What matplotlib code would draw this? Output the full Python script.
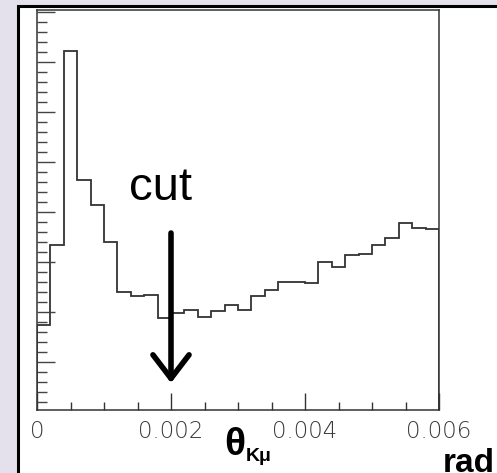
#draws the theta_K-mu angle histogram with the cut marker

import matplotlib.pyplot as plt
import matplotlib.patches as patches
from matplotlib.ticker import MultipleLocator



#histogram: 30 bins of 0.0002 rad
binEdges = [i * 0.0002 for i in range(31)]
counts = [174, 334, 722, 464, 414, 340, 240, 232, 234, 188,
          198, 204, 190, 202, 214, 204, 232, 244, 260, 260,
          258, 300, 290, 314, 316, 334, 348, 378, 368, 366]

xTicks = [0, 0.002, 0.004, 0.006]
xTickLabels = ["0", "0.002", "0.004", "0.006"]

#cut position and arrow span
cutX = 0.002
arrowTop = 358
arrowTip = 58

W, H = 497, 473



def px(x, y):
    #pixel position -> figure fraction
    return x / W, 1 - y / H


def createGraph():

    fig = plt.figure(figsize=(W / 100, H / 100), dpi=100, facecolor="#e4e0ec")

    #white panel with black border, running off the right and bottom
    fig.patches.append(patches.Rectangle((17.5 / W, -0.5), 2, 1.5 - 6.5 / H,
                                         transform=fig.transFigure, facecolor="white",
                                         edgecolor="black", linewidth=2.2, zorder=-1))

    l, b = px(37, 410)
    r, t = px(439, 10)
    ax = fig.add_axes([l, b, r - l, t - b])
    ax.set_facecolor("white")

    ax.stairs(counts, binEdges, color="#333333", linewidth=1.3)

    ax.set_xlim(0, 0.006)
    ax.set_ylim(4, 804)

    for s in ax.spines.values():
        s.set_color("#333333")
        s.set_linewidth(1.1)

    ax.set_xticks(xTicks)
    ax.set_xticklabels(xTickLabels, fontsize=16.5, color="#3a3a3a",
                       fontfamily="DejaVu Sans", fontweight="light")
    ax.xaxis.set_minor_locator(MultipleLocator(0.0005))
    ax.tick_params(axis="x", which="major", direction="in", length=12, width=1,
                   color="#333333", pad=7, top=False)
    ax.tick_params(axis="x", which="minor", direction="in", length=6, width=1,
                   color="#333333", top=False)

    ax.yaxis.set_major_locator(MultipleLocator(100))
    ax.yaxis.set_minor_locator(MultipleLocator(20))
    ax.tick_params(axis="y", which="major", direction="in", length=13, width=1,
                   color="#444444", labelleft=False, right=False)
    ax.tick_params(axis="y", which="minor", direction="in", length=7, width=1,
                   color="#444444", right=False)

    #cut arrow
    ax.annotate("", xy=(cutX, arrowTip), xytext=(cutX, arrowTop),
                arrowprops=dict(arrowstyle="->,head_length=1.7,head_width=1.3",
                                color="black", lw=4, shrinkA=0, shrinkB=0,
                                mutation_scale=10))

    x, y = px(129, 200)
    fig.text(x, y, "cut", fontsize=34, fontfamily="Liberation Sans",
             ha="left", va="baseline")

    #axis title theta_Kmu, drawn as two pieces so the subscript sits low
    x, y = px(224, 455)
    fig.text(x, y, "θ", fontsize=28, fontweight="bold", fontfamily="Liberation Sans",
             ha="left", va="baseline")
    x, y = px(246, 461)
    fig.text(x, y, "Kμ", fontsize=14, fontweight="bold", fontfamily="Liberation Sans",
             ha="left", va="baseline")

    x, y = px(443, 472)
    fig.text(x, y, "rad", fontsize=24, fontweight="bold", fontfamily="Liberation Sans",
             ha="left", va="baseline")

    fig.savefig("out.png", dpi=100, facecolor=fig.get_facecolor())



createGraph()
